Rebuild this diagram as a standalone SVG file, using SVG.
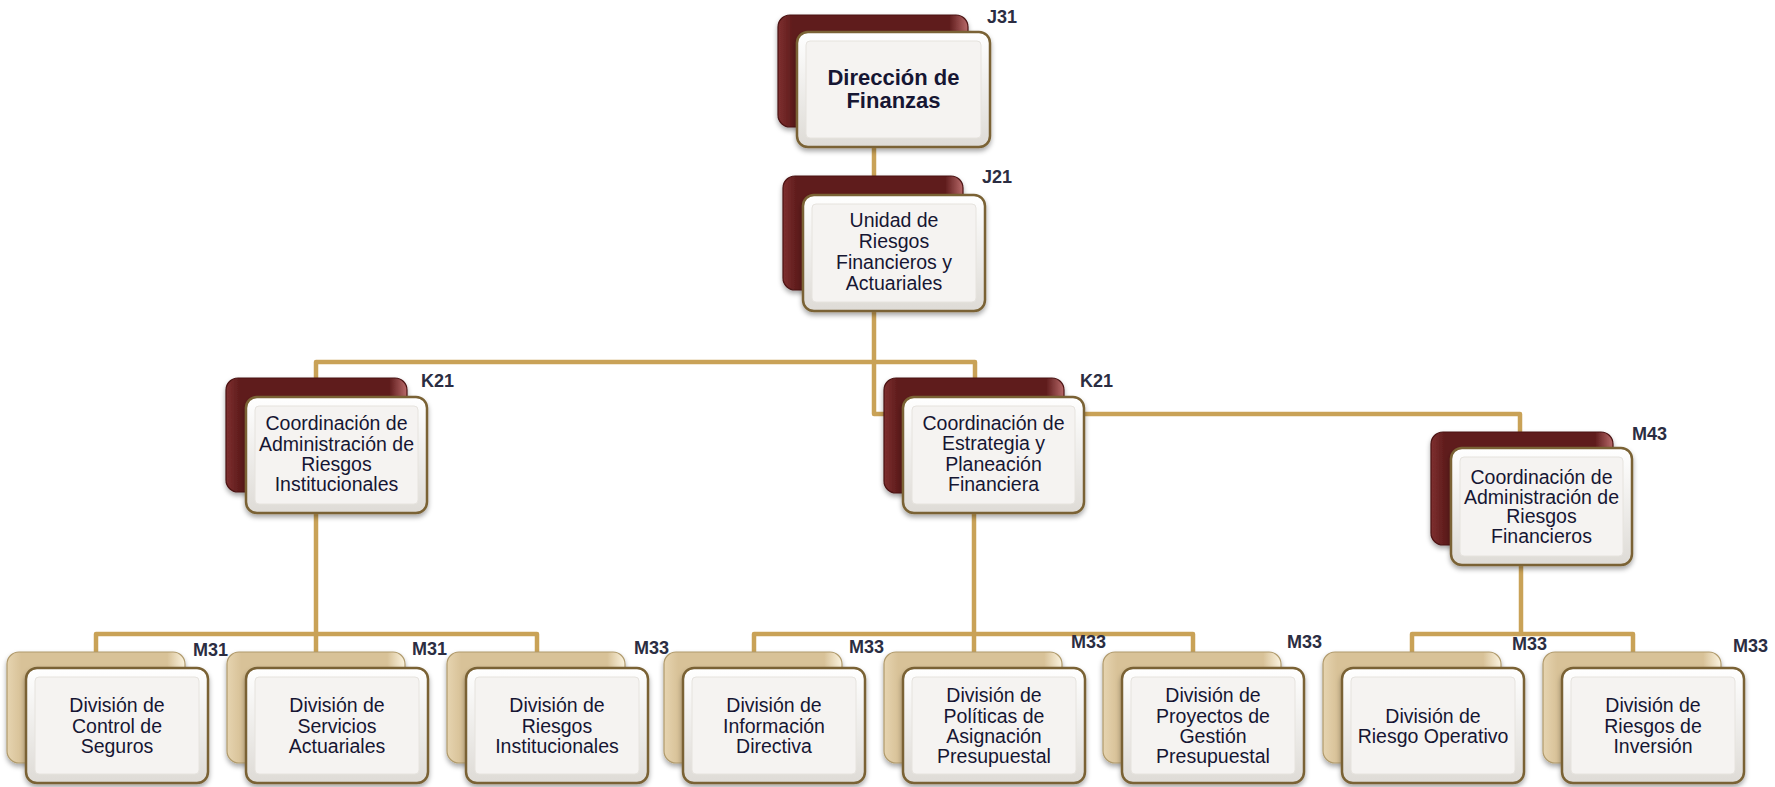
<svg xmlns="http://www.w3.org/2000/svg" width="1775" height="787" viewBox="0 0 1775 787">
<defs>
<linearGradient id="gFront" x1="0" y1="0" x2="0" y2="1">
<stop offset="0" stop-color="#ffffff"/>
<stop offset="1" stop-color="#dedbd6"/>
</linearGradient>
<linearGradient id="gRed" x1="0" y1="0" x2="1" y2="0">
<stop offset="0" stop-color="#7e3030"/>
<stop offset="0.08" stop-color="#5e1b1b"/>
<stop offset="0.9" stop-color="#5e1b1b"/>
<stop offset="1" stop-color="#b86a6a"/>
</linearGradient>
<linearGradient id="gTan" x1="0" y1="0" x2="1" y2="0">
<stop offset="0" stop-color="#e6d4b0"/>
<stop offset="0.08" stop-color="#d8c298"/>
<stop offset="0.9" stop-color="#d8c298"/>
<stop offset="1" stop-color="#fbf3df"/>
</linearGradient>
<filter id="sh" x="-10%" y="-10%" width="120%" height="130%">
<feDropShadow dx="0" dy="3" stdDeviation="2.5" flood-color="#000" flood-opacity="0.35"/>
</filter>
</defs>
<style>
.conn{fill:none;stroke:#c9a257;stroke-width:4.5;stroke-linejoin:round;stroke-linecap:butt}
.br{fill:url(#gRed);stroke:#4a1212;stroke-width:1.2;filter:url(#sh)}
.bt{fill:url(#gTan);stroke:#b09a6c;stroke-width:1.2;filter:url(#sh)}
.fr{fill:url(#gFront);stroke:#7a6234;stroke-width:2.5;filter:url(#sh)}
.fi{fill:#f5f3f1;stroke:#e6e3de;stroke-width:1}
.t{font-family:"Liberation Sans",Arial,sans-serif;font-size:19.5px;fill:#161633;text-anchor:middle}
.tb{font-family:"Liberation Sans",Arial,sans-serif;font-size:22px;font-weight:bold;fill:#161633;text-anchor:middle}
.lb{font-family:"Liberation Sans",Arial,sans-serif;font-size:18px;font-weight:bold;fill:#2b2d42}
</style>
<rect width="1775" height="787" fill="#ffffff"/>
<g id="connectors">
<path class="conn" d="M874 140 V195"/>
<path class="conn" d="M874 305 V414 H1520 V440"/>
<path class="conn" d="M316 385 V362 H975 V385"/>
<path class="conn" d="M316 505 V660"/>
<path class="conn" d="M96 660 V634 H537 V660"/>
<path class="conn" d="M974 505 V660"/>
<path class="conn" d="M754 660 V634 H1193 V660"/>
<path class="conn" d="M1521 560 V634"/>
<path class="conn" d="M1412 660 V634 H1633 V660"/>
</g>
<g id="n-j31">
<rect class="br" x="778" y="15" width="190" height="112" rx="12"/>
<rect class="fr" x="797" y="32" width="193" height="115" rx="11"/>
<rect class="fi" x="806" y="41" width="175" height="97" rx="4"/>
<text class="tb" x="893.5" y="85">Dirección de</text>
<text class="tb" x="893.5" y="108">Finanzas</text>
<text class="lb" x="987" y="23">J31</text>
</g>
<g id="n-j21">
<rect class="br" x="783" y="176" width="180" height="114" rx="12"/>
<rect class="fr" x="803" y="195" width="182" height="116" rx="11"/>
<rect class="fi" x="812" y="204" width="164" height="98" rx="4"/>
<text class="t" x="894" y="227">Unidad de</text>
<text class="t" x="894" y="248">Riesgos</text>
<text class="t" x="894" y="269">Financieros y</text>
<text class="t" x="894" y="290">Actuariales</text>
<text class="lb" x="982" y="183">J21</text>
</g>
<g id="n-k21a">
<rect class="br" x="226" y="378" width="181" height="114" rx="12"/>
<rect class="fr" x="246" y="397" width="181" height="116" rx="11"/>
<rect class="fi" x="255" y="406" width="163" height="98" rx="4"/>
<text class="t" x="336.5" y="430">Coordinación de</text>
<text class="t" x="336.5" y="451">Administración de</text>
<text class="t" x="336.5" y="471">Riesgos</text>
<text class="t" x="336.5" y="491">Institucionales</text>
<text class="lb" x="421" y="387">K21</text>
</g>
<g id="n-k21b">
<rect class="br" x="884" y="378" width="180" height="115" rx="12"/>
<rect class="fr" x="903" y="397" width="181" height="116" rx="11"/>
<rect class="fi" x="912" y="406" width="163" height="98" rx="4"/>
<text class="t" x="993.5" y="430">Coordinación de</text>
<text class="t" x="993.5" y="450">Estrategia y</text>
<text class="t" x="993.5" y="471">Planeación</text>
<text class="t" x="993.5" y="491">Financiera</text>
<text class="lb" x="1080" y="387">K21</text>
</g>
<g id="n-m43">
<rect class="br" x="1431" y="432" width="182" height="113" rx="12"/>
<rect class="fr" x="1451" y="448" width="181" height="117" rx="11"/>
<rect class="fi" x="1460" y="457" width="163" height="99" rx="4"/>
<text class="t" x="1541.5" y="484">Coordinación de</text>
<text class="t" x="1541.5" y="504">Administración de</text>
<text class="t" x="1541.5" y="523">Riesgos</text>
<text class="t" x="1541.5" y="543">Financieros</text>
<text class="lb" x="1632" y="440">M43</text>
</g>
<g id="n-b1">
<rect class="bt" x="7" y="652" width="178" height="111" rx="12"/>
<rect class="fr" x="26" y="668" width="182" height="115" rx="11"/>
<rect class="fi" x="35" y="677" width="164" height="97" rx="4"/>
<text class="t" x="117" y="712">División de</text>
<text class="t" x="117" y="732.5">Control de</text>
<text class="t" x="117" y="753">Seguros</text>
<text class="lb" x="193" y="656">M31</text>
</g>
<g id="n-b2">
<rect class="bt" x="227" y="652" width="178" height="111" rx="12"/>
<rect class="fr" x="246" y="668" width="182" height="115" rx="11"/>
<rect class="fi" x="255" y="677" width="164" height="97" rx="4"/>
<text class="t" x="337" y="712">División de</text>
<text class="t" x="337" y="732.5">Servicios</text>
<text class="t" x="337" y="753">Actuariales</text>
<text class="lb" x="412" y="655">M31</text>
</g>
<g id="n-b3">
<rect class="bt" x="447" y="652" width="178" height="111" rx="12"/>
<rect class="fr" x="466" y="668" width="182" height="115" rx="11"/>
<rect class="fi" x="475" y="677" width="164" height="97" rx="4"/>
<text class="t" x="557" y="712">División de</text>
<text class="t" x="557" y="732.5">Riesgos</text>
<text class="t" x="557" y="753">Institucionales</text>
<text class="lb" x="634" y="654">M33</text>
</g>
<g id="n-b4">
<rect class="bt" x="664" y="652" width="178" height="111" rx="12"/>
<rect class="fr" x="683" y="668" width="182" height="115" rx="11"/>
<rect class="fi" x="692" y="677" width="164" height="97" rx="4"/>
<text class="t" x="774" y="712">División de</text>
<text class="t" x="774" y="732.5">Información</text>
<text class="t" x="774" y="753">Directiva</text>
<text class="lb" x="849" y="653">M33</text>
</g>
<g id="n-b5">
<rect class="bt" x="884" y="652" width="178" height="111" rx="12"/>
<rect class="fr" x="903" y="668" width="182" height="115" rx="11"/>
<rect class="fi" x="912" y="677" width="164" height="97" rx="4"/>
<text class="t" x="994" y="702">División de</text>
<text class="t" x="994" y="722.5">Políticas de</text>
<text class="t" x="994" y="743">Asignación</text>
<text class="t" x="994" y="763">Presupuestal</text>
<text class="lb" x="1071" y="648">M33</text>
</g>
<g id="n-b6">
<rect class="bt" x="1103" y="652" width="178" height="111" rx="12"/>
<rect class="fr" x="1122" y="668" width="182" height="115" rx="11"/>
<rect class="fi" x="1131" y="677" width="164" height="97" rx="4"/>
<text class="t" x="1213" y="702">División de</text>
<text class="t" x="1213" y="722.5">Proyectos de</text>
<text class="t" x="1213" y="743">Gestión</text>
<text class="t" x="1213" y="763">Presupuestal</text>
<text class="lb" x="1287" y="648">M33</text>
</g>
<g id="n-b7">
<rect class="bt" x="1323" y="652" width="178" height="111" rx="12"/>
<rect class="fr" x="1342" y="668" width="182" height="115" rx="11"/>
<rect class="fi" x="1351" y="677" width="164" height="97" rx="4"/>
<text class="t" x="1433" y="722.5">División de</text>
<text class="t" x="1433" y="743">Riesgo Operativo</text>
<text class="lb" x="1512" y="650">M33</text>
</g>
<g id="n-b8">
<rect class="bt" x="1543" y="652" width="178" height="111" rx="12"/>
<rect class="fr" x="1562" y="668" width="182" height="115" rx="11"/>
<rect class="fi" x="1571" y="677" width="164" height="97" rx="4"/>
<text class="t" x="1653" y="712">División de</text>
<text class="t" x="1653" y="732.5">Riesgos de</text>
<text class="t" x="1653" y="753">Inversión</text>
<text class="lb" x="1733" y="652">M33</text>
</g>
</svg>
